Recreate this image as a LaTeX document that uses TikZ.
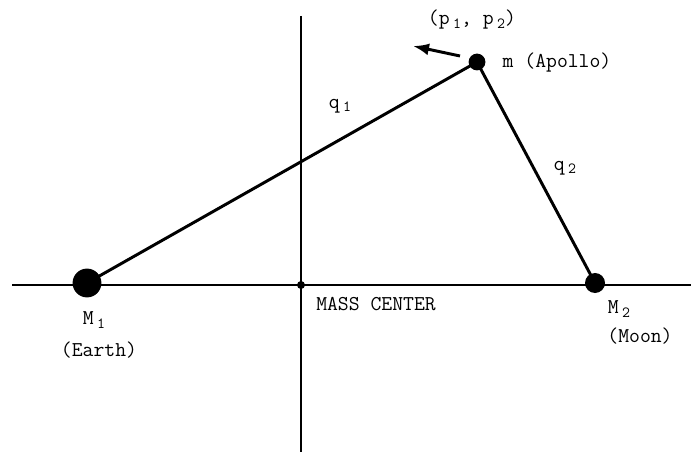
\documentclass[tikz,border=0pt]{standalone}
\usepackage{fontspec}
\usetikzlibrary{arrows.meta}

\newcommand{\lowsub}[1]{\,\raisebox{-0.35ex}{\fontsize{11}{12}\selectfont #1}}

\begin{document}
\begin{tikzpicture}[x=0.025cm, y=-0.025cm, font=\ttfamily\fontsize{15}{17}\selectfont]
    \useasboundingbox (0,0) rectangle (691,459);

    % axes
    \coordinate (xl) at (12,285);
    \coordinate (xr) at (691,285);
    \coordinate (yt) at (301,16);
    \coordinate (yb) at (301,452);
    \draw[line width=1.4pt] (xl) -- (xr);
    \draw[line width=1.4pt] (yt) -- (yb);

    % bodies
    \node[circle, fill, minimum size=7.2mm, inner sep=0pt]  (M1) at (87,283) {};
    \node[circle, fill, minimum size=5mm, inner sep=0pt]    (M2) at (595,283) {};
    \node[circle, fill, minimum size=4.2mm, inner sep=0pt]  (m)  at (477,62) {};
    \node[circle, fill, minimum size=2mm, inner sep=0pt]    (mc) at (301,285) {};

    % distances
    \draw[line width=2.1pt] (M1.center) -- (m.center);
    \draw[line width=2.1pt] (m.center) -- (M2.center);

    % momentum arrow
    \coordinate (ptail) at (460,56);
    \coordinate (phead) at (413,46);
    \draw[line width=2.1pt, -{Latex[length=4mm, width=3mm]}] (ptail) -- (phead);

    % labels
    \node (lblp)     at (472,20)  {(p\lowsub{1}, p\lowsub{2})};
    \node (lblm)     at (557,63)  {m (Apollo)};
    \node (lblq1)    at (340,106) {q\lowsub{1}};
    \node (lblq2)    at (565,168) {q\lowsub{2}};
    \node (lblM1)    at (94,320)  {M\lowsub{1}};
    \node (lblEarth) at (99,350)  {(Earth)};
    \node (lblMC)    at (376,304) {MASS CENTER};
    \node (lblM2)    at (619,309) {M\lowsub{2}};
    \node (lblMoon)  at (640,336) {(Moon)};
\end{tikzpicture}
\end{document}
